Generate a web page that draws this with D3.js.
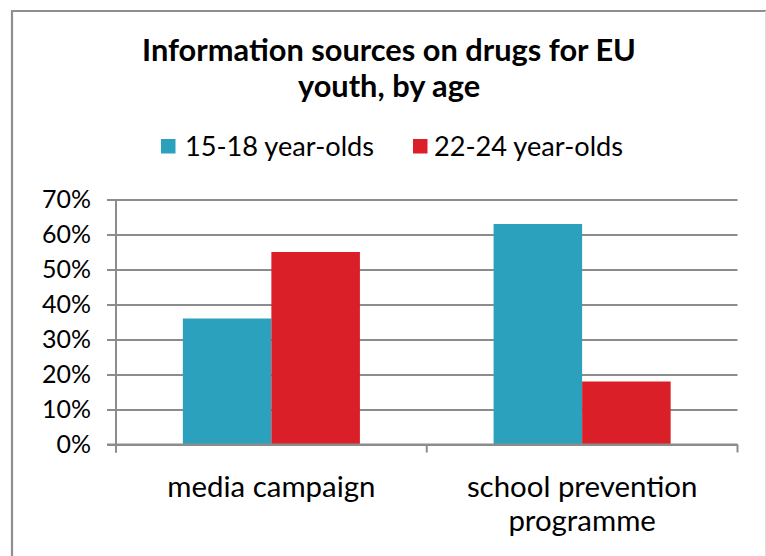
<!DOCTYPE html>
<html>
<head>
<meta charset="utf-8">
<script src="https://cdn.jsdelivr.net/npm/d3@7"></script>
<style>
  html, body { margin: 0; padding: 0; background: #fff; }
  svg { display: block; }
  text { font-family: Lato, "DejaVu Sans", sans-serif; fill: #000; }
</style>
</head>
<body>
<svg id="chart" width="766" height="556"></svg>
<script>
// Chart data
const titleLines = ["Information sources on drugs for EU", "youth, by age"];
const categories = ["media campaign", "school prevention programme"];
const categoryLines = [["media campaign"], ["school prevention", "programme"]];
const seriesNames = ["15-18 year-olds", "22-24 year-olds"];
const seriesColors = ["#2ca1be", "#da1f28"];
const values1518 = [0.36, 0.63];
const values2224 = [0.55, 0.18];
const yTicks = [0, 0.1, 0.2, 0.3, 0.4, 0.5, 0.6, 0.7];

const seriesValues = [values1518, values2224];
const svg = d3.select("#chart");

// Font size at which a sample string reaches a target width
function sizeFor(weight, targetWidth, sample) {
  const probe = svg.append("text").attr("font-size", 100).attr("font-weight", weight).text(sample);
  const w = probe.node().getComputedTextLength();
  probe.remove();
  return 100 * targetWidth / w;
}
function fitFont(sel, weight, targetWidth, sample) {
  const size = sizeFor(weight, targetWidth, sample);
  sel.attr("font-size", size.toFixed(2));
  return size;
}

// Outer frame
const frame = svg.append("g");
frame.append("path").attr("d", "M12,556 V11 H766").attr("fill", "none")
  .attr("stroke", "#8f8f8f").attr("stroke-width", 2.2);
frame.append("line").attr("x1", 765.5).attr("x2", 765.5).attr("y1", 11).attr("y2", 556)
  .attr("stroke", "#dcdcdc").attr("stroke-width", 1);

// Title
const title = svg.append("g");
const titleTexts = title.selectAll("text").data(titleLines).join("text")
  .attr("x", 389).attr("y", (d, i) => 61 + i * 36)
  .attr("text-anchor", "middle").attr("font-weight", "bold").text(d => d);
fitFont(titleTexts, "bold", 494, titleLines[0]);

// Plot area
const plotLeft = 116, plotRight = 737.5, plotTop = 199.5, plotBottom = 444.5;
const y = d3.scaleLinear().domain([0, 0.7]).range([plotBottom, plotTop]);
const x0 = d3.scaleBand().domain(categories).range([plotLeft, plotRight]).padding(0);
const x1 = d3.scaleBand().domain(seriesNames).range([0, x0.bandwidth()])
  .paddingInner(0).paddingOuter(0.755);

// Value axis with gridlines
const yAxis = svg.append("g").attr("transform", `translate(${plotLeft},0)`)
  .call(d3.axisLeft(y).tickValues(yTicks).tickFormat(d3.format(".0%"))
    .tickSize(-(plotRight - plotLeft)).tickPadding(25));
yAxis.select(".domain").remove();
yAxis.selectAll(".tick line").attr("x1", -9).attr("x2", plotRight - plotLeft)
  .attr("stroke", "#8c8c8c").attr("stroke-width", 2);
const yLabels = yAxis.selectAll(".tick text").attr("font-family", null).attr("fill", "#000");
fitFont(yLabels, "normal", 49, "70%");

// Bars
const groups = svg.append("g").selectAll("g").data(categories).join("g")
  .attr("transform", d => `translate(${x0(d)},0)`);
groups.selectAll("rect")
  .data((c, ci) => seriesNames.map((s, si) => ({ s, si, v: seriesValues[si][ci] })))
  .join("rect")
  .attr("x", d => x1(d.s)).attr("width", x1.bandwidth())
  .attr("y", d => y(d.v)).attr("height", d => y(0) - y(d.v))
  .attr("fill", d => seriesColors[d.si]);

// Vertical axis line
svg.append("line").attr("x1", plotLeft).attr("x2", plotLeft)
  .attr("y1", plotTop).attr("y2", plotBottom + 8)
  .attr("stroke", "#8c8c8c").attr("stroke-width", 2);

// Category axis: baseline plus tick marks on band boundaries
const bounds = [plotLeft, ...categories.map(c => x0(c) + x0.bandwidth())];
svg.append("line").attr("x1", plotLeft - 9).attr("x2", plotRight)
  .attr("y1", plotBottom).attr("y2", plotBottom)
  .attr("stroke", "#8c8c8c").attr("stroke-width", 2);
svg.append("g").selectAll("line").data(bounds).join("line")
  .attr("x1", d => d).attr("x2", d => d)
  .attr("y1", plotBottom).attr("y2", plotBottom + 8)
  .attr("stroke", "#8c8c8c").attr("stroke-width", 2);

// Category labels
const catSize = 0.96 * (sizeFor("normal", 226, "media campaign") + sizeFor("normal", 230, "school prevention")) / 2;
const catLabels = svg.append("g").selectAll("g").data(categories).join("g")
  .attr("transform", d => `translate(${x0(d) + x0.bandwidth() / 2},497)`);
catLabels.selectAll("text").data((d, i) => categoryLines[i]).join("text")
  .attr("text-anchor", "middle").attr("font-size", catSize.toFixed(2))
  .attr("x", 0).attr("y", (d, i) => i * 34).text(d => d);

// Legend
const legendX = [161, 413];
const legend = svg.append("g").selectAll("g").data(seriesNames).join("g")
  .attr("transform", (d, i) => `translate(${legendX[i]},139)`);
legend.append("rect").attr("width", 14.5).attr("height", 14.5)
  .attr("fill", (d, i) => seriesColors[i]);
const legendTexts = legend.append("text").attr("x", (d, i) => i === 0 ? 24 : 21).attr("y", 17)
  .text(d => d);
fitFont(legendTexts, "normal", 189, seriesNames[0]);
</script>
</body>
</html>
